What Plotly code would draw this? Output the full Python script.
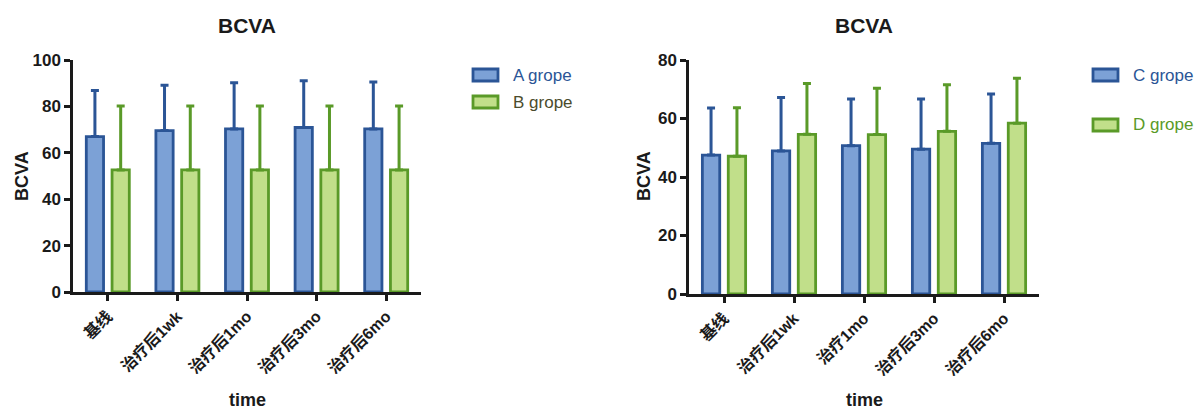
import plotly.graph_objects as go

# ---- data ----
cats_left = ["基线", "治疗后1wk", "治疗后1mo", "治疗后3mo", "治疗后6mo"]
cats_right = ["基线", "治疗后1wk", "治疗1mo", "治疗后3mo", "治疗后6mo"]

a_mean = [67.0, 69.6, 70.3, 70.9, 70.3]
a_sd = [19.8, 19.5, 19.9, 20.2, 20.2]
b_mean = [52.6, 52.6, 52.6, 52.6, 52.6]
b_sd = [27.6, 27.6, 27.6, 27.6, 27.6]

c_mean = [47.5, 48.9, 50.7, 49.5, 51.5]
c_sd = [16.1, 18.3, 16.0, 17.2, 16.9]
d_mean = [47.1, 54.6, 54.5, 55.6, 58.4]
d_sd = [16.6, 17.4, 15.8, 15.9, 15.4]

series_names = ["A grope", "B grope", "C grope", "D grope"]

# ---- styles ----
BLUE_FILL = "#7ca1d6"
BLUE_LINE = "#2b5596"
GREEN_FILL = "#c1df8a"
GREEN_LINE = "#5a9a28"
INK = "#1a1a1a"
FONT = "Liberation Sans, Arial, Noto Sans CJK SC, sans-serif"
W, H = 1201, 411

fig = go.Figure()


def add_bar(x, y, err, fill, line, xa, ya, name):
    fig.add_trace(go.Bar(
        x=list(range(len(x))), y=y, name=name,
        marker=dict(color=fill, line=dict(color=line, width=2.8)),
        error_y=dict(type="data", array=err, arrayminus=[0] * len(err),
                     symmetric=False, color=line, thickness=3, width=4),
        xaxis=xa, yaxis=ya, showlegend=False,
    ))


add_bar(cats_left, a_mean, a_sd, BLUE_FILL, BLUE_LINE, "x", "y", series_names[0])
add_bar(cats_left, b_mean, b_sd, GREEN_FILL, GREEN_LINE, "x", "y", series_names[1])
add_bar(cats_right, c_mean, c_sd, BLUE_FILL, BLUE_LINE, "x2", "y2", series_names[2])
add_bar(cats_right, d_mean, d_sd, GREEN_FILL, GREEN_LINE, "x2", "y2", series_names[3])

axis_common = dict(
    showline=True, linecolor=INK, linewidth=2.5,
    ticks="outside", ticklen=6, tickwidth=2.5, tickcolor=INK,
    showgrid=False, zeroline=False, automargin=False,
)

def xaxis(dom, labels, anchor):
    return dict(axis_common, domain=dom, anchor=anchor, range=[-0.5, 4.5],
                tickmode="array", tickvals=list(range(len(labels))), ticktext=labels,
                tickangle=-45,
                tickfont=dict(family=FONT, size=16, color=INK, weight="bold"))

def yaxis(dom, rng, anchor):
    return dict(axis_common, domain=dom, anchor=anchor, range=rng, dtick=20,
                tickfont=dict(family=FONT, size=17, color=INK, weight="bold"))

fig.update_layout(
    width=W, height=H,
    margin=dict(l=0, r=0, t=0, b=0, autoexpand=False),
    paper_bgcolor="white", plot_bgcolor="white",
    barmode="group", bargap=0.26, bargroupgap=0.33,
    xaxis=xaxis([73 / W, 421 / W], cats_left, "y"),
    yaxis=yaxis([1 - 292 / H, 1 - 60 / H], [0, 100], "x"),
    xaxis2=xaxis([689 / W, 1039 / W], cats_right, "y2"),
    yaxis2=yaxis([1 - 294 / H, 1 - 60 / H], [0, 80], "x2"),
    font=dict(family=FONT),
)

def px_x(v):
    return v / W

def px_y(v):
    return 1 - v / H

def note(text, x, y, size, color=INK, angle=0, xanchor="center"):
    fig.add_annotation(text=text, x=px_x(x), y=px_y(y), xref="paper", yref="paper",
                       xanchor=xanchor, yanchor="middle", showarrow=False, textangle=angle,
                       font=dict(family=FONT, size=size, color=color))

# titles and axis titles
for xc, ytx in [((73 + 421) / 2, 22), ((689 + 1039) / 2, 644)]:
    note("<b>BCVA</b>", xc, 25, 21)
    note("<b>time</b>", xc, 400, 18)
    note("<b>BCVA</b>", ytx, 176, 18, angle=-90)

# custom legends
legend_items = [
    (472, 75, series_names[0], BLUE_FILL, BLUE_LINE, BLUE_LINE),
    (472, 102, series_names[1], GREEN_FILL, GREEN_LINE, "#4b4b2c"),
    (1092, 75, series_names[2], BLUE_FILL, BLUE_LINE, BLUE_LINE),
    (1092, 125, series_names[3], GREEN_FILL, GREEN_LINE, GREEN_LINE),
]
for lx, ly, name, fill, line, tcol in legend_items:
    fig.add_shape(type="rect", xref="paper", yref="paper",
                  x0=px_x(lx + 1), x1=px_x(lx + 26), y0=px_y(ly + 6), y1=px_y(ly - 6),
                  fillcolor=fill, line=dict(color=line, width=2.8))
    note(name, lx + 39, ly, 17, color=tcol, xanchor="left")

fig.write_html("out.html", config={"displayModeBar": False},
               post_script="document.body.style.margin='0px';")
